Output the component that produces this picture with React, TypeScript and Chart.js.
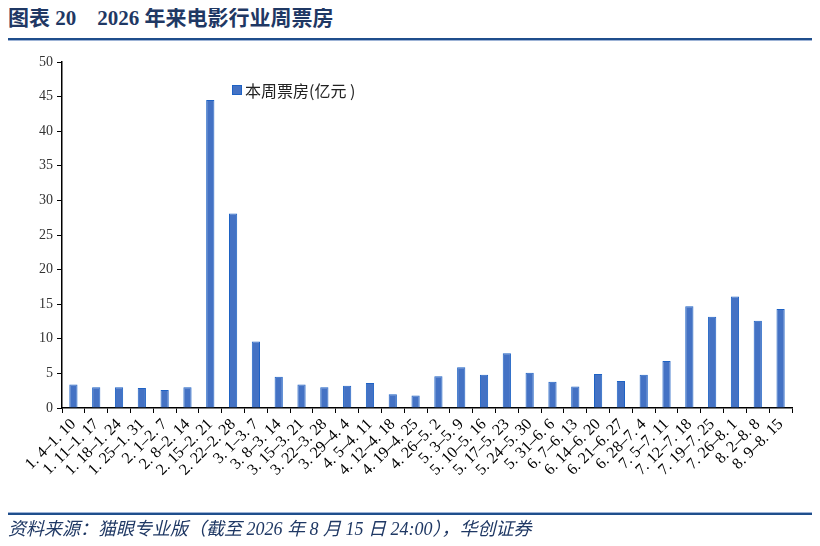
import React, { useEffect, useRef } from "react";
import { Chart, registerables } from "chart.js";

Chart.register(...registerables);

const categories: string[] = [
  "1. 4–1. 10", "1. 11–1. 17", "1. 18–1. 24", "1. 25–1. 31", "2. 1–2. 7", "2. 8–2. 14",
  "2. 15–2. 21", "2. 22–2. 28", "3. 1–3. 7", "3. 8–3. 14", "3. 15–3. 21", "3. 22–3. 28",
  "3. 29–4. 4", "4. 5–4. 11", "4. 12–4. 18", "4. 19–4. 25", "4. 26–5. 2", "5. 3–5. 9",
  "5. 10–5. 16", "5. 17–5. 23", "5. 24–5. 30", "5. 31–6. 6", "6. 7–6. 13", "6. 14–6. 20",
  "6. 21–6. 27", "6. 28–7. 4", "7. 5–7. 11", "7. 12–7. 18", "7. 19–7. 25", "7. 26–8. 1",
  "8. 2–8. 8", "8. 9–8. 15",
];

const weeklyBoxOffice: number[] = [
  3.4, 3.0, 3.0, 2.9, 2.6, 3.0, 44.5, 28.1, 9.6, 4.5, 3.4, 3.0,
  3.2, 3.6, 2.0, 1.8, 4.6, 5.9, 4.8, 7.9, 5.1, 3.8, 3.1, 4.9,
  3.9, 4.8, 6.8, 14.7, 13.2, 16.1, 12.6, 14.3,
];

const seriesName = "本周票房(亿元 )";
const yMax = 50;
const yStep = 5;

const NAVY = "#1F3864";
const SERIF = '"Times New Roman", "Liberation Serif", "Noto Sans CJK SC", serif';

export default function App() {
  const ref = useRef<HTMLCanvasElement | null>(null);

  useEffect(() => {
    if (!ref.current) return;
    const chart = new Chart(ref.current, {
      type: "bar",
      data: {
        labels: categories,
        datasets: [
          {
            label: seriesName,
            data: weeklyBoxOffice,
            backgroundColor: "#4472C4",
            borderColor: "#1E62C4",
            borderWidth: 1,
            categoryPercentage: 1,
            barPercentage: 0.36,
          },
        ],
      },
      options: {
        responsive: false,
        animation: false,
        maintainAspectRatio: false,
        layout: { padding: { left: 0, right: 20, top: 54, bottom: 0 } },
        plugins: {
          legend: { display: false },
          tooltip: { enabled: false },
          title: { display: false },
        },
        scales: {
          x: {
            offset: true,
            grid: {
              display: true,
              offset: true,
              drawOnChartArea: false,
              drawTicks: true,
              tickLength: 5,
              color: "#000",
              lineWidth: 1,
            },
            border: { display: true, color: "#000", width: 1.5 },
            ticks: {
              autoSkip: false,
              maxRotation: 45,
              minRotation: 45,
              padding: 2,
              color: "#000",
              font: { family: SERIF, size: 16 },
            },
            afterFit: (s: any) => {
              s.height = 130;
            },
          },
          y: {
            min: 0,
            max: yMax,
            grid: {
              display: true,
              drawOnChartArea: false,
              drawTicks: true,
              tickLength: 5,
              color: "#000",
            },
            border: { display: true, color: "#000", width: 1.5 },
            ticks: {
              stepSize: yStep,
              padding: 4,
              color: "#333",
              font: { family: SERIF, size: 14 },
            },
            afterFit: (s: any) => {
              s.width = 54;
            },
          },
        },
      },
    });
    return () => chart.destroy();
  }, []);

  return (
    <div style={{ position: "relative", width: 804, height: 530 }}>
      <div
        style={{
          position: "absolute",
          left: 0,
          top: -3,
          fontFamily: SERIF,
          fontWeight: "bold",
          fontSize: 21,
          color: NAVY,
          whiteSpace: "pre",
          lineHeight: "26px",
        }}
      >
        图表 20{"    "}2026 年来电影行业周票房
      </div>
      <div
        style={{
          position: "absolute",
          left: -2,
          top: 30,
          width: 808,
          height: 2,
          background: "#1F4E8C",
          boxShadow: "0 1px 0 #9DB3D6",
        }}
      />
      <canvas
        ref={ref}
        width={804}
        height={530}
        style={{ position: "absolute", left: 0, top: 0, width: 804, height: 530 }}
      />
      <div
        style={{
          position: "absolute",
          left: 224,
          top: 70,
          display: "flex",
          alignItems: "center",
          fontFamily: '"Noto Sans CJK SC", sans-serif',
          fontSize: 16,
          color: "#222",
          whiteSpace: "pre",
        }}
      >
        <span
          style={{
            display: "inline-block",
            width: 8,
            height: 8,
            background: "#4472C4",
            border: "1px solid #1E62C4",
            marginRight: 3,
          }}
        />
        <span>{seriesName}</span>
      </div>
      <div
        style={{
          position: "absolute",
          left: -2,
          top: 505,
          width: 808,
          height: 2,
          background: "#1F4E8C",
          boxShadow: "0 -1px 0 #9DB3D6",
        }}
      />
      <div
        style={{
          position: "absolute",
          left: 0,
          top: 510,
          fontFamily: SERIF,
          fontStyle: "italic",
          fontSize: 18,
          color: NAVY,
          whiteSpace: "pre",
          lineHeight: "22px",
        }}
      >
        资料来源：猫眼专业版（截至 2026 年 8 月 15 日 24:00），华创证券
      </div>
    </div>
  );
}
